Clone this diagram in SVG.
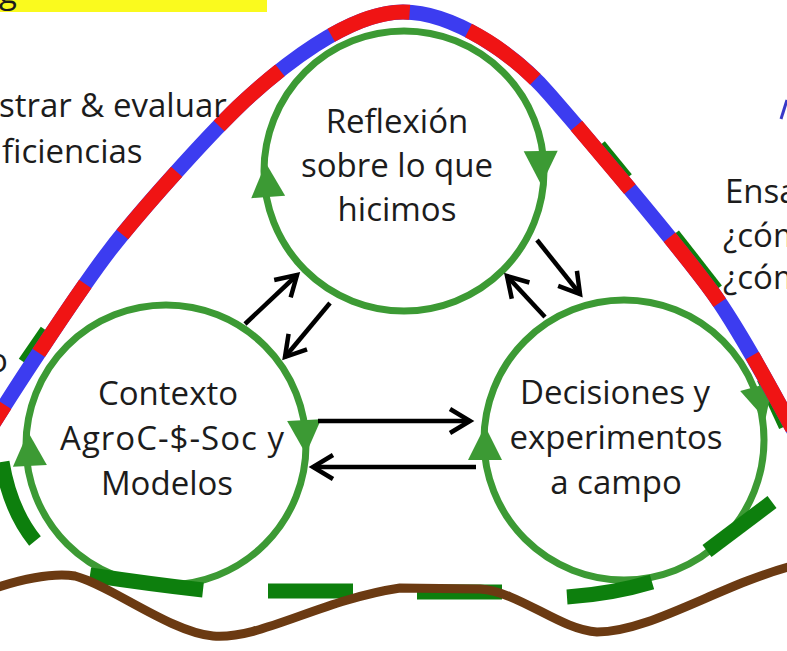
<svg xmlns="http://www.w3.org/2000/svg" width="787" height="651" viewBox="0 0 787 651">
<style>
.txt{font-family:"Open Sans","Liberation Sans",Arial,sans-serif;font-size:33px;fill:#1c1c1c}
.ctr{text-anchor:middle}
.ring{fill:none;stroke:#3c9a34;stroke-width:7}
.tri{fill:#3c9a34}
.dg{fill:none;stroke:#0d7f0d;stroke-width:15;stroke-linecap:butt}
.arr{fill:none;stroke:#000;stroke-width:4.5;marker-end:url(#ah)}
.arc{fill:none;stroke-width:15;stroke-linecap:butt}
</style>
<defs>
<marker id="ah" markerUnits="userSpaceOnUse" viewBox="-26 -16 32 32" markerWidth="32" markerHeight="32" refX="0" refY="0" orient="auto">
<path d="M-20,-12 L0,0 L-20,12" fill="none" stroke="#000" stroke-width="4.5"/>
</marker>
<path id="tri" d="M0,-17 L17,17 L-17,17 Z"/>
<path id="arcpath" d="M -12,432 C 15,388 80,289 110,250 C 140,211 205,139 238,107 C 278,69 348,12 403,12 C 453,12 515,54 550,95 C 590,141 678,245 713,293 C 743,335 778,402 800,442"/>
</defs>
<rect width="787" height="651" fill="#ffffff"/>

<g id="slide-fragments">
<rect x="0" y="0" width="267" height="12" fill="#fafa1e"/>
<text class="txt" x="-1" y="3">g</text>
<line x1="787" y1="100" x2="781" y2="119" stroke="#3838c8" stroke-width="3"/>
</g>

<g id="outer-loop-under">
<path class="dg" d="M25,363 L47,331"/>
<path class="dg" d="M599,146 L626,179"/>
<path class="dg" d="M673,235 L716,290"/>
<path class="dg" d="M764,378 L786,426" stroke-width="12"/>
</g>

<g id="node-reflexion">
<circle class="ring" cx="404" cy="171" r="140"/>
<use href="#tri" class="tri" transform="translate(267,180) rotate(-4)"/>
<use href="#tri" class="tri" transform="translate(541,168) rotate(179)"/>
<text class="txt ctr" x="397" y="133">Reflexión</text>
<text class="txt ctr" x="397" y="177">sobre lo que</text>
<text class="txt ctr" x="397" y="221">hicimos</text>
</g>

<g id="node-contexto">
<circle class="ring" cx="166" cy="445" r="140"/>
<use href="#tri" class="tri" transform="translate(29,449) rotate(-3)"/>
<use href="#tri" class="tri" transform="translate(305,437) rotate(177)"/>
<text class="txt ctr" x="168" y="405">Contexto</text>
<text class="txt ctr" x="172" y="450" textLength="224">AgroC-$-Soc y</text>
<text class="txt ctr" x="167" y="495">Modelos</text>
</g>

<g id="node-decisiones">
<circle class="ring" cx="624" cy="440" r="140"/>
<use href="#tri" class="tri" transform="translate(485,443)"/>
<use href="#tri" class="tri" transform="translate(761,403) rotate(165)"/>
<text class="txt ctr" x="615" y="404">Decisiones y</text>
<text class="txt ctr" x="616" y="449">experimentos</text>
<text class="txt ctr" x="616" y="494">a campo</text>
</g>

<g id="big-arc">
<use href="#arcpath" class="arc" stroke="#3c3cf0"/>
<use href="#arcpath" class="arc" stroke="#f01414" stroke-dasharray="83 62" stroke-dashoffset="51"/>
</g>

<g id="outer-loop-bottom">
<path class="dg" d="M2,462 Q10,510 35,541"/>
<path class="dg" d="M90,575 Q150,584 203,590"/>
<path class="dg" d="M268,591 L353,591"/>
<path class="dg" d="M417,592 L502,592"/>
<path class="dg" d="M567,597 Q612,594 652,582"/>
<path class="dg" d="M707,551 L772,502"/>
</g>

<path id="ground" d="M -5,588 C 20,580 50,572 75,576 C 110,585 170,632 213,636 C 260,640 320,600 400,588 L 480,589 C 520,592 560,630 597,632 C 650,632 720,585 792,566" fill="none" stroke="#6b3a12" stroke-width="9" stroke-linecap="round"/>

<g id="connectors">
<line class="arr" x1="245" y1="324" x2="297" y2="275"/>
<line class="arr" x1="330" y1="303" x2="285" y2="357"/>
<line class="arr" x1="318" y1="421" x2="470" y2="421"/>
<line class="arr" x1="476" y1="467" x2="313" y2="467"/>
<line class="arr" x1="537" y1="240" x2="580" y2="294"/>
<line class="arr" x1="545" y1="317" x2="507" y2="276"/>
</g>

<g id="side-texts">
<text class="txt" x="-1" y="117">strar &amp; evaluar</text>
<text class="txt" x="2" y="163">ficiencias</text>
<text class="txt" x="-12" y="372">o</text>
<text class="txt" x="725" y="203">Ensa</text>
<text class="txt" x="723" y="247">¿cóm</text>
<text class="txt" x="723" y="289">¿cóm</text>
</g>
</svg>
